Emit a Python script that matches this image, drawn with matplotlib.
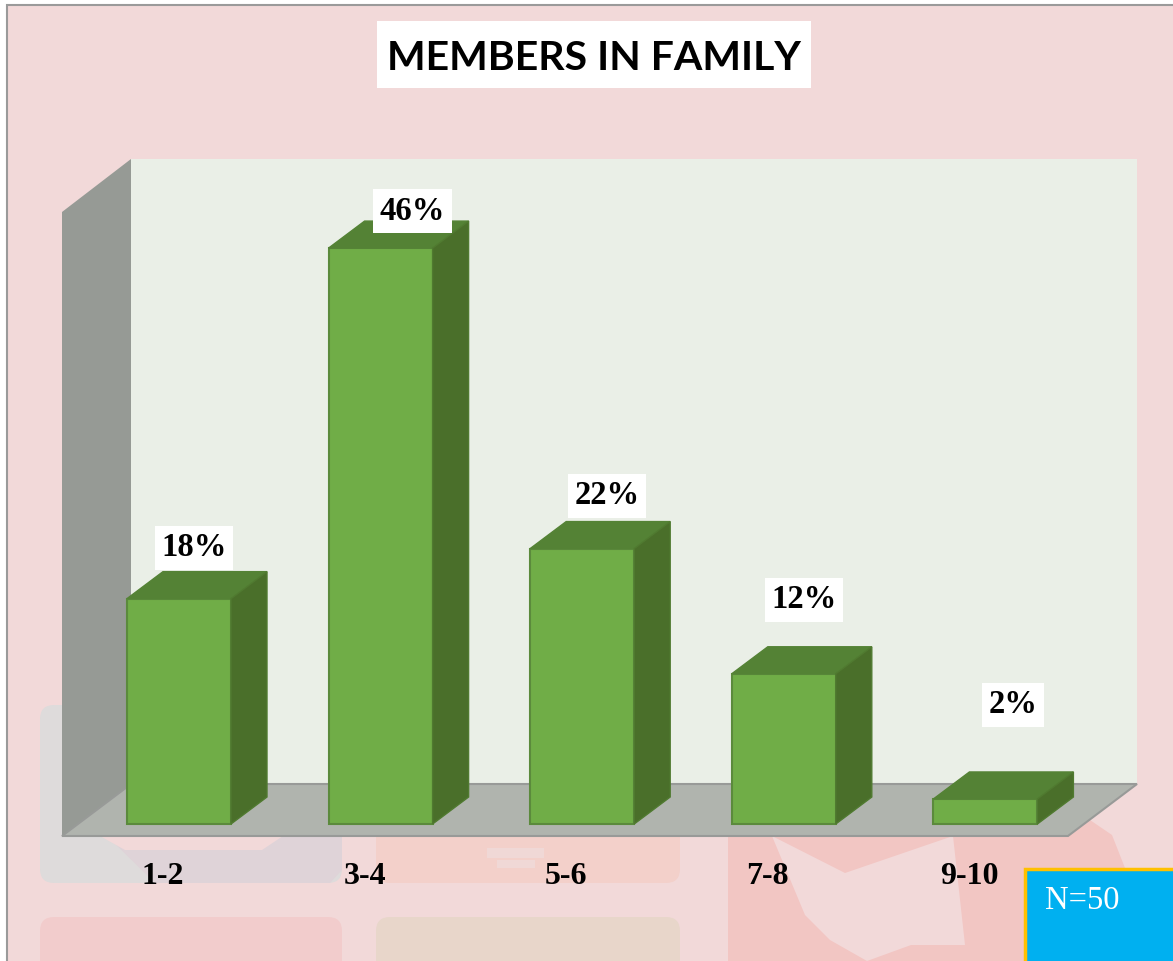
"""Members in family, 3D style column chart on a faint slide background."""

import matplotlib
matplotlib.use("Agg")
import matplotlib.pyplot as plt
from matplotlib.patches import FancyBboxPatch, Polygon, Rectangle

categories = ["1-2", "3-4", "5-6", "7-8", "9-10"]
percent = [18, 46, 22, 12, 2]
percent_labels = ["18%", "46%", "22%", "12%", "2%"]
label_lift_px = [51, 37, 53, 74, 94]
label_shift_px = [15, 32, 25, 20, 28]

W, H = 1173, 961
PX_PER_CAT = 201.6
PX_PER_PCT = 12.52
FIRST_X = 179
BASE_Y = 824


def data_x(px):
    return (px - FIRST_X) / PX_PER_CAT


def data_y(py):
    return (BASE_Y - py) / PX_PER_PCT


fig = plt.figure(figsize=(W / 100, H / 100), dpi=100)
fig.patch.set_facecolor("white")

# slide background, in pixel coordinates
bg = fig.add_axes([0, 0, 1, 1])
bg.set_xlim(0, W)
bg.set_ylim(H, 0)
bg.axis("off")
bg.add_patch(Rectangle((7, 5), W, H, fc="#F2D9D9", ec="#9A9A9A", lw=1.5))


def tile(x0, y0, x1, y1, color):
    bg.add_patch(FancyBboxPatch((x0 + 14, y0 + 14), x1 - x0 - 28, y1 - y0 - 28,
                                boxstyle="round,pad=14,rounding_size=14",
                                fc=color, ec="none"))


tile(40, 705, 342, 883, "#DEDBDB")
bg.add_patch(Polygon([(107, 836), (342, 836), (342, 870), (330, 883), (155, 883)],
                     fc="#DFD3D8", ec="none"))
bg.add_patch(Polygon([(100, 836), (283, 836), (262, 850), (125, 850)],
                     fc="#F2D9D9", ec="none"))
tile(376, 780, 680, 883, "#F3D0CA")
bg.add_patch(Rectangle((487, 848), 57, 10, fc="#F0D8D6", ec="none"))
bg.add_patch(Rectangle((497, 860), 38, 8, fc="#F0D8D6", ec="none"))
tile(40, 917, 342, 1000, "#F2CCCC")
tile(376, 917, 680, 1000, "#E8D6CA")
bg.add_patch(Polygon([(728, 836), (1090, 820), (1112, 835), (1125, 868), (1125, 961),
                      (728, 961)], fc="#F2C6C3", ec="none"))
bg.add_patch(Polygon([(772, 836), (845, 873), (953, 836), (965, 945), (911, 945),
                      (867, 961), (830, 940), (805, 915)], fc="#F2D9D9", ec="none"))

# chart, x in category index and y in percent
ax = fig.add_axes([0, 0, 1, 1], facecolor="none")
ax.set_xlim(data_x(0), data_x(W))
ax.set_ylim(data_y(H), data_y(0))
ax.axis("off")

dx = data_x(36) - data_x(0)
dy = data_y(0) - data_y(27)
half = 52 / PX_PER_CAT


def poly(points_px, **kw):
    pts = [(data_x(x), data_y(y)) for x, y in points_px]
    ax.add_patch(Polygon(pts, **kw))


poly([(131, 159), (1137, 159), (1137, 784), (131, 784)], fc="#EAEFE7", ec="none")
poly([(62, 212), (131, 159), (131, 784), (62, 836)], fc="#969A95", ec="none")
poly([(62, 836), (131, 784), (1137, 784), (1068, 836)], fc="#B0B4AE", ec="#989A98", lw=1.5)

for i, v in enumerate(percent):
    ax.bar(i, v, width=2 * half, color="#70AD47", edgecolor="#5B8A3C", linewidth=1.5, zorder=3)
    ax.add_patch(Polygon([(i - half, v), (i - half + dx, v + dy), (i + half + dx, v + dy),
                          (i + half, v)], fc="#548235", ec="#548235", lw=1, zorder=3))
    ax.add_patch(Polygon([(i + half, 0), (i + half + dx, dy), (i + half + dx, v + dy),
                          (i + half, v)], fc="#4A6F2A", ec="#507A30", lw=1, zorder=3))
    ax.text(i + label_shift_px[i] / PX_PER_CAT, v + label_lift_px[i] / PX_PER_PCT,
            percent_labels[i], family="Liberation Serif", weight="bold", fontsize=23.5,
            ha="center", va="center", color="black", zorder=5,
            bbox=dict(fc="white", ec="none", boxstyle="square,pad=0.2"))
    ax.text(i - 16 / PX_PER_CAT, data_y(876.5), categories[i], family="Liberation Serif",
            weight="bold", fontsize=23, ha="center", va="center", color="black", zorder=5)

# title and the N box
bg2 = fig.add_axes([0, 0, 1, 1], facecolor="none")
bg2.set_xlim(0, W)
bg2.set_ylim(H, 0)
bg2.axis("off")
bg2.add_patch(Rectangle((377, 21), 434, 67, fc="white", ec="none"))
bg2.text(594, 59, "MEMBERS IN FAMILY", family="Lato", weight="bold", fontsize=29.5,
         ha="center", va="center", color="black")
bg2.add_patch(Rectangle((1025, 869), 170, 120, fc="#00B0F0", ec="#FFC000", lw=2.5))
bg2.text(1045, 901, "N=50", family="Liberation Serif", fontsize=23.5,
         ha="left", va="center", color="white")

fig.savefig("out.png", dpi=100)
